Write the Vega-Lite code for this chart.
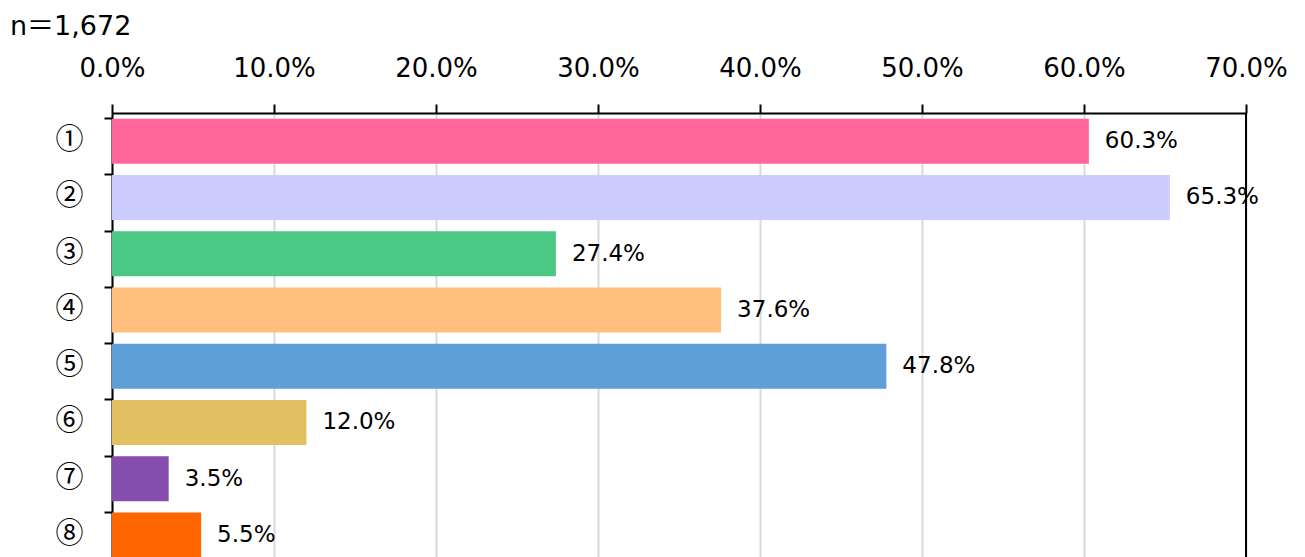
{
  "$schema": "https://vega.github.io/schema/vega-lite/v6.json",
  "width": 1134,
  "height": 450,
  "autosize": "none",
  "padding": {"left": 112, "top": 113, "right": 59, "bottom": 0},
  "background": "white",
  "title": {
    "text": "n＝1,672",
    "anchor": "start",
    "frame": "group",
    "dx": -102,
    "offset": 14,
    "font": "DejaVu Sans, Noto Sans CJK JP",
    "fontSize": 27,
    "fontWeight": "normal",
    "color": "black"
  },
  "data": {
    "values": [
      {"item": "①", "value": 0.603},
      {"item": "②", "value": 0.653},
      {"item": "③", "value": 0.274},
      {"item": "④", "value": 0.376},
      {"item": "⑤", "value": 0.478},
      {"item": "⑥", "value": 0.120},
      {"item": "⑦", "value": 0.035},
      {"item": "⑧", "value": 0.055}
    ]
  },
  "encoding": {
    "y": {
      "field": "item",
      "type": "nominal",
      "sort": null,
      "title": null,
      "scale": {"paddingInner": 0.2, "paddingOuter": 0.1},
      "axis": {
        "orient": "left",
        "bandPosition": 0,
        "domainColor": "black",
        "domainWidth": 2,
        "tickColor": "black",
        "tickWidth": 2,
        "tickSize": 8,
        "labelFont": "Noto Sans CJK JP",
        "labelFontSize": 28,
        "labelColor": "black",
        "labelPadding": 21,
        "grid": false
      }
    },
    "x": {
      "field": "value",
      "type": "quantitative",
      "title": null,
      "scale": {"domain": [0, 0.7], "nice": false},
      "axis": {
        "orient": "top",
        "values": [0, 0.1, 0.2, 0.3, 0.4, 0.5, 0.6, 0.7],
        "format": ".1%",
        "labelFont": "DejaVu Sans",
        "labelFontSize": 26,
        "labelColor": "black",
        "labelPadding": 23,
        "labelFlush": false,
        "tickColor": "black",
        "tickWidth": 2,
        "tickSize": 9,
        "domainColor": "black",
        "domainWidth": 2,
        "grid": true,
        "gridColor": "#d9d9d9",
        "gridWidth": 2
      }
    }
  },
  "layer": [
    {
      "mark": {"type": "bar"},
      "encoding": {
        "color": {
          "field": "item",
          "type": "nominal",
          "legend": null,
          "scale": {
            "domain": ["①", "②", "③", "④", "⑤", "⑥", "⑦", "⑧"],
            "range": ["#FF6699", "#CCCCFF", "#4CC885", "#FFBF7F", "#5F9ED6", "#E0C060", "#864FAE", "#FF6600"]
          }
        }
      }
    },
    {
      "mark": {"type": "text", "align": "left", "baseline": "middle", "dx": 16, "font": "DejaVu Sans", "fontSize": 23, "color": "black"},
      "encoding": {
        "text": {"field": "value", "type": "quantitative", "format": ".1%"}
      }
    },
    {
      "mark": {"type": "rule", "color": "black", "strokeWidth": 2},
      "encoding": {"x": {"datum": 0.7}, "y": null}
    }
  ]
}
